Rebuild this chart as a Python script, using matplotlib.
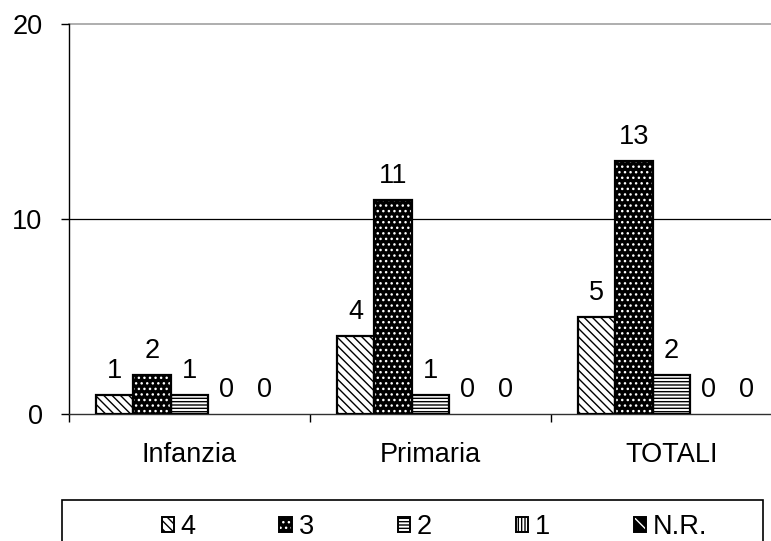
import numpy as np
import matplotlib
matplotlib.use("Agg")
import matplotlib.pyplot as plt
from matplotlib.patches import Patch, Rectangle
from matplotlib.legend_handler import HandlerPatch

plt.rcParams['font.family'] = ['Liberation Sans', 'DejaVu Sans']
plt.rcParams['hatch.linewidth'] = 1.0

categories = ['Infanzia', 'Primaria', 'TOTALI']
series_names = ['4', '3', '2', '1', 'N.R.']
values = {
    '4': [1, 4, 5],
    '3': [2, 11, 13],
    '2': [1, 1, 2],
    '1': [0, 0, 0],
    'N.R.': [0, 0, 0],
}
yticks = [0, 10, 20]

# hatch style per series: (facecolor, hatch colour, hatch)
styles = {
    '4': ('white', 'black', '\\\\\\\\'),
    '3': ('black', 'white', '...'),
    '2': ('white', 'black', '-----'),
    '1': ('white', 'black', '|||||'),
    'N.R.': ('black', 'white', '\\\\'),
}

FS = 19.5
fig = plt.figure(figsize=(7.71, 5.41), dpi=100)
ax = fig.add_axes([69 / 771, 1 - 414 / 541, 723 / 771, 390 / 541])

n = len(series_names)
bw = 0.1556
x = np.arange(len(categories)) + 0.5
for i, name in enumerate(series_names):
    fc, hc, hatch = styles[name]
    pos = x + (i - (n - 1) / 2) * bw
    vals = np.array(values[name])
    nz = vals > 0
    if nz.any():
        ax.bar(pos[nz], vals[nz], bw, color=fc, edgecolor=hc, hatch=hatch, lw=0, zorder=3)
        ax.bar(pos[nz], vals[nz], bw, fill=False, edgecolor='black', lw=1.6, zorder=4)
    for px, v in zip(pos, vals):
        ax.annotate(str(v), (px, v), xytext=(0, 12.2), textcoords='offset points',
                    ha='center', va='baseline', fontsize=FS)

ax.set_xlim(0, 3)
ax.set_ylim(0, 20)
ax.set_yticks(yticks)
ax.tick_params(axis='y', labelsize=FS, length=6, width=1, pad=13, direction='out')
ax.set_xticks([0, 1, 2, 3])
ax.set_xticklabels([])
ax.set_xticks(x, minor=True)
ax.set_xticklabels(categories, minor=True, fontsize=FS)
ax.tick_params(axis='x', which='major', length=6, width=1, direction='out')
ax.tick_params(axis='x', which='minor', length=0, pad=20)

ax.axhline(10, color='black', lw=0.9, zorder=1)
ax.axhline(20, color='#a8a8a8', lw=1.3, zorder=1, clip_on=False)
for s in ['top', 'right']:
    ax.spines[s].set_visible(False)
ax.spines['left'].set_linewidth(1)
ax.spines['bottom'].set_linewidth(1)
ax.spines['bottom'].set_color('#303030')

# legend frame
fig.patches.append(Rectangle((62 / 771, -0.1), 701 / 771, 0.1 + 1 - 500 / 541,
                             transform=fig.transFigure, fill=False,
                             edgecolor='black', lw=1.2))

handles = []
for name in series_names:
    fc, hc, hatch = styles[name]
    handles.append(Patch(facecolor=fc, edgecolor=hc, hatch=hatch, lw=0))


class BoxHandler(HandlerPatch):
    def create_artists(self, legend, orig_handle, xdescent, ydescent, width, height, fontsize, trans):
        arts = super().create_artists(legend, orig_handle, xdescent, ydescent, width, height, fontsize, trans)
        r = Rectangle((-xdescent, -ydescent), width, height, fill=False, edgecolor='black', lw=1.4, transform=trans)
        return arts + [r]


fig.legend(handles, series_names, ncol=5, loc='center left', frameon=False,
           bbox_to_anchor=(148 / 771, 1 - 527 / 541), fontsize=FS, borderpad=0,
           handlelength=0.45, handleheight=0.45, handletextpad=0.25,
           columnspacing=3.1, handler_map={Patch: BoxHandler()})

fig.savefig('out.png', dpi=100)
